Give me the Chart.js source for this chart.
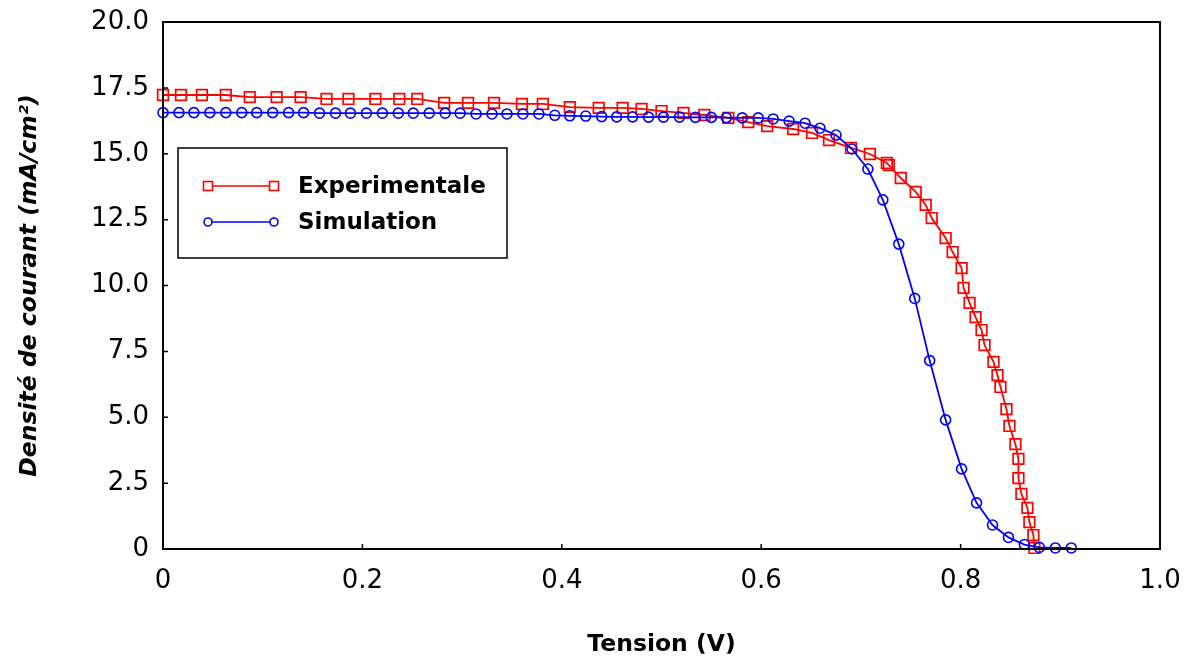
<!DOCTYPE html>
<html lang="fr">
<head>
<meta charset="UTF-8">
<title>Densité de courant - Tension</title>
<style>
  html, body { margin: 0; padding: 0; background: #fff; }
  #wrap { width: 1194px; height: 661px; }
</style>
</head>
<body>
<div id="wrap"><canvas id="myChart"></canvas></div>
<script src="https://cdn.jsdelivr.net/npm/chart.js"></script>
<script>
// courbe experimentale (V, mA/cm2)
const expTension = [0, 0.018, 0.039, 0.063, 0.087, 0.114, 0.138, 0.164, 0.186, 0.213,
  0.237, 0.255, 0.282, 0.306, 0.332, 0.360, 0.381, 0.408, 0.437, 0.461,
  0.480, 0.500, 0.522, 0.543, 0.567, 0.587, 0.606, 0.632, 0.651, 0.668,
  0.690, 0.709, 0.726, 0.728, 0.740, 0.755, 0.765, 0.771, 0.785, 0.792,
  0.801, 0.803, 0.809, 0.815, 0.821, 0.824, 0.833, 0.837, 0.840, 0.846,
  0.849, 0.855, 0.858, 0.858, 0.861, 0.867, 0.869, 0.873, 0.874];
const expCourant = [17.23, 17.23, 17.23, 17.23, 17.15, 17.15, 17.15, 17.08, 17.08, 17.08,
  17.08, 17.08, 16.93, 16.93, 16.93, 16.89, 16.89, 16.77, 16.74, 16.74,
  16.70, 16.62, 16.55, 16.47, 16.36, 16.20, 16.05, 15.94, 15.79, 15.52,
  15.22, 14.99, 14.65, 14.57, 14.08, 13.55, 13.06, 12.56, 11.80, 11.27,
  10.66, 9.91, 9.34, 8.80, 8.31, 7.74, 7.10, 6.60, 6.15, 5.31,
  4.67, 3.98, 3.42, 2.69, 2.09, 1.56, 1.02, 0.53, 0.04];

// simulation
const simTension = [0, 0.016, 0.031, 0.047, 0.063, 0.079, 0.094, 0.110, 0.126, 0.141,
  0.157, 0.173, 0.188, 0.204, 0.220, 0.236, 0.251, 0.267, 0.283, 0.298,
  0.314, 0.330, 0.345, 0.361, 0.377, 0.393, 0.408, 0.424, 0.440, 0.455,
  0.471, 0.487, 0.502, 0.518, 0.534, 0.550, 0.565, 0.581, 0.597, 0.612,
  0.628, 0.644, 0.659, 0.675, 0.691, 0.707, 0.722, 0.738, 0.754, 0.769,
  0.785, 0.801, 0.816, 0.832, 0.848, 0.864, 0.879, 0.895, 0.911];
const simCourant = [16.56, 16.56, 16.56, 16.56, 16.56, 16.56, 16.56, 16.56, 16.56, 16.56,
  16.54, 16.54, 16.54, 16.54, 16.54, 16.54, 16.54, 16.54, 16.54, 16.54,
  16.51, 16.51, 16.51, 16.51, 16.51, 16.46, 16.44, 16.43, 16.41, 16.40,
  16.40, 16.39, 16.39, 16.39, 16.38, 16.38, 16.37, 16.36, 16.36, 16.32,
  16.24, 16.16, 15.97, 15.71, 15.18, 14.42, 13.25, 11.57, 9.51, 7.15,
  4.90, 3.04, 1.75, 0.91, 0.44, 0.17, 0.06, 0.04, 0.04];

const seriesNames = ['Experimentale', 'Simulation'];
const xTickLabels = ['0', '0.2', '0.4', '0.6', '0.8', '1.0'];
const yTickLabels = ['0', '2.5', '5.0', '7.5', '10.0', '12.5', '15.0', '17.5', '20.0'];

const toPoints = (xs, ys) => xs.map((x, i) => ({ x: x, y: ys[i] }));

const FONT = 'DejaVu Sans';

// cadre + petites graduations vers l'interieur
const framePlugin = {
  id: 'frame',
  afterDatasetsDraw(chart) {
    const { ctx, chartArea: a, scales } = chart;
    ctx.save();
    ctx.strokeStyle = '#000';
    ctx.lineWidth = 2;
    ctx.strokeRect(a.left, a.top, a.right - a.left, a.bottom - a.top);
    ctx.lineWidth = 1.5;
    ctx.beginPath();
    scales.y.ticks.forEach(t => {
      const y = scales.y.getPixelForValue(t.value);
      ctx.moveTo(a.left, y);
      ctx.lineTo(a.left + 5, y);
    });
    scales.x.ticks.forEach(t => {
      const x = scales.x.getPixelForValue(t.value);
      ctx.moveTo(x, a.bottom);
      ctx.lineTo(x, a.bottom - 5);
    });
    ctx.stroke();
    ctx.restore();
  }
};

// legende dans le graphe
const legendPlugin = {
  id: 'boxLegend',
  afterDraw(chart) {
    const { ctx, chartArea: a } = chart;
    const x0 = a.left + 15, y0 = a.top + 126;
    ctx.save();
    ctx.fillStyle = '#fff';
    ctx.fillRect(x0, y0, 329, 110);
    ctx.strokeStyle = '#000';
    ctx.lineWidth = 1.5;
    ctx.strokeRect(x0, y0, 329, 110);
    chart.data.datasets.forEach((ds, i) => {
      const y = y0 + 38 + i * 36;
      const xa = x0 + 30, xb = x0 + 96;
      ctx.strokeStyle = ds.borderColor;
      ctx.lineWidth = 1.6;
      ctx.beginPath();
      ctx.moveTo(xa, y);
      ctx.lineTo(xb, y);
      ctx.stroke();
      [xa, xb].forEach(px => {
        ctx.beginPath();
        if (ds.pointStyle === 'rect') {
          ctx.fillStyle = '#fff';
          ctx.fillRect(px - 4.5, y - 4.5, 9, 9);
          ctx.strokeRect(px - 4.5, y - 4.5, 9, 9);
        } else {
          ctx.arc(px, y, 4, 0, Math.PI * 2);
          ctx.fillStyle = '#fff';
          ctx.fill();
          ctx.stroke();
        }
      });
      ctx.fillStyle = '#000';
      ctx.font = 'bold 23px "' + FONT + '"';
      ctx.textBaseline = 'middle';
      ctx.fillText(ds.label, x0 + 120, y + 1);
    });
    ctx.restore();
  }
};

const ctx = document.getElementById('myChart');

new Chart(ctx, {
  type: 'line',
  data: {
    datasets: [{
      label: seriesNames[0],
      data: toPoints(expTension, expCourant),
      borderColor: '#ff0000',
      borderWidth: 1.8,
      pointStyle: 'rect',
      pointRadius: 7.5,
      pointBorderWidth: 1.7,
      pointBackgroundColor: 'rgba(0,0,0,0)',
      tension: 0,
      clip: false,
      order: 2
    }, {
      label: seriesNames[1],
      data: toPoints(simTension, simCourant),
      borderColor: '#0000ff',
      borderWidth: 1.8,
      pointStyle: 'circle',
      pointRadius: 5,
      pointBorderWidth: 1.6,
      pointBackgroundColor: 'rgba(0,0,0,0)',
      tension: 0,
      clip: false,
      order: 1
    }]
  },
  options: {
    responsive: true,
    maintainAspectRatio: false,
    animation: false,
    layout: { padding: { left: 0, right: 34, top: 22, bottom: 0 } },
    plugins: {
      legend: { display: false },
      tooltip: { enabled: false }
    },
    scales: {
      x: {
        type: 'linear',
        min: 0,
        max: 1,
        grid: { display: false, drawTicks: false },
        border: { display: false },
        ticks: {
          stepSize: 0.2,
          color: '#000',
          padding: 17,
          font: { family: FONT, size: 26 },
          callback: (v, i) => xTickLabels[i]
        },
        title: {
          display: true,
          text: 'Tension (V)',
          color: '#000',
          font: { family: FONT, size: 23.5, weight: 'bold' },
          padding: { top: 0, bottom: 2 }
        },
        afterFit: s => {
          s.height = 112;
          s.paddingLeft = 0;
          s.paddingRight = 0;
        }
      },
      y: {
        min: 0,
        max: 20,
        grid: { display: false, drawTicks: false },
        border: { display: false },
        ticks: {
          stepSize: 2.5,
          color: '#000',
          padding: 14,
          font: { family: FONT, size: 26 },
          callback: (v, i) => yTickLabels[i]
        },
        title: {
          display: true,
          text: 'Densité de courant (mA/cm²)',
          color: '#000',
          font: { family: FONT, size: 23.5, weight: 'bold', style: 'italic' },
          padding: { top: 16, bottom: 0 }
        },
        afterFit: s => {
          s.width = 163;
          s.paddingTop = 0;
          s.paddingBottom = 0;
        }
      }
    }
  },
  plugins: [framePlugin, legendPlugin]
});
</script>
</body>
</html>
